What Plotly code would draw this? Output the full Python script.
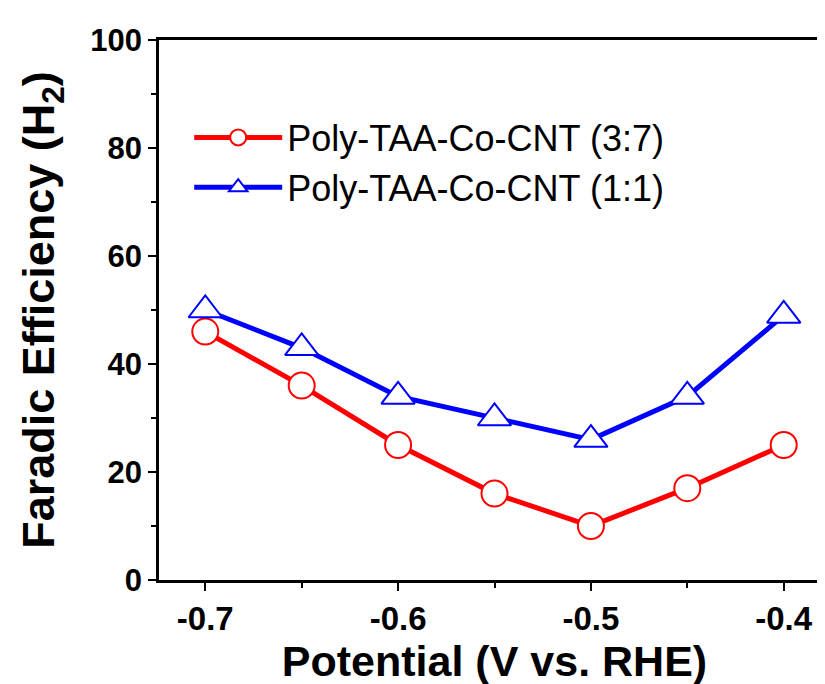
import plotly.graph_objects as go

potential = [-0.7, -0.65, -0.6, -0.55, -0.5, -0.45, -0.4]
fe_37 = [46, 36, 25, 16, 10, 17, 25]
fe_11 = [50, 43, 34, 30, 26, 34, 49]
name_37 = "Poly-TAA-Co-CNT (3:7)"
name_11 = "Poly-TAA-Co-CNT (1:1)"
x_ticks = [-0.7, -0.6, -0.5, -0.4]
x_ticklabels = ["-0.7", "-0.6", "-0.5", "-0.4"]
y_ticks = [0, 20, 40, 60, 80, 100]

fig = go.Figure()
fig.add_trace(go.Scatter(
    x=potential, y=fe_37, name=name_37, mode="lines+markers",
    line=dict(color="#ff0000", width=5),
    marker=dict(symbol="circle", size=26, color="white",
                line=dict(color="#ff0000", width=2)),
))
fig.add_trace(go.Scatter(
    x=potential, y=fe_11, name=name_11, mode="lines+markers",
    line=dict(color="#0000ff", width=5),
    marker=dict(symbol="triangle-up", size=29, color="white",
                line=dict(color="#0000ff", width=2)),
))

axis_common = dict(
    showline=True, linecolor="black", linewidth=2.5, mirror=True,
    ticks="outside", ticklen=8, tickwidth=2, tickcolor="black",
    showgrid=False, zeroline=False, automargin=False,
)
fig.update_xaxes(
    range=[-0.724, -0.376], tickvals=x_ticks, ticktext=x_ticklabels,
    tickfont=dict(family="Liberation Sans", size=33, color="black", weight="bold"),
    minor=dict(dtick=0.05, tick0=-0.7, ticks="outside", ticklen=5, tickwidth=2, tickcolor="black"),
    title=dict(text="Potential (V vs. RHE)", standoff=0,
               font=dict(family="Liberation Sans", size=43, color="black", weight="bold")),
    **axis_common,
)
fig.update_yaxes(
    range=[0, 100], tickvals=y_ticks,
    tickfont=dict(family="Liberation Sans", size=31, color="black", weight="bold"),
    minor=dict(dtick=10, tick0=0, ticks="outside", ticklen=5, tickwidth=2, tickcolor="black"),
    title=dict(text="Faradic Efficiency (H<sub>2</sub>)", standoff=22,
               font=dict(family="Liberation Sans", size=45, color="black", weight="bold")),
    **axis_common,
)
fig.update_layout(
    width=825, height=684,
    margin=dict(l=151, r=3, t=32, b=112),
    paper_bgcolor="white", plot_bgcolor="white",
    legend=dict(x=0.045, y=0.875, xanchor="left", yanchor="top",
                font=dict(family="Liberation Sans", size=36, color="black"),
                bgcolor="rgba(0,0,0,0)", itemwidth=88, tracegroupgap=0),
)
fig.write_html("out.html")
